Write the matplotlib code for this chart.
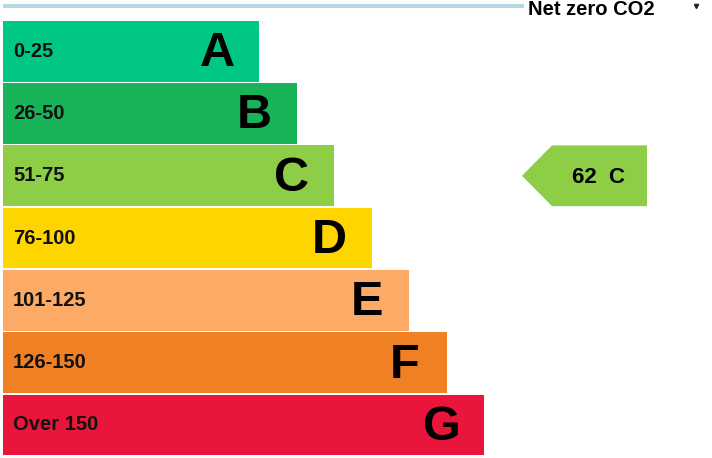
import matplotlib
matplotlib.use('Agg')
import matplotlib.pyplot as plt
from matplotlib.patches import Polygon
import numpy as np

# Energy bands (CO2 rating)
bands = ['A', 'B', 'C', 'D', 'E', 'F', 'G']
ranges = ['0-25', '26-50', '51-75', '76-100', '101-125', '126-150', 'Over 150']
band_colors = ['#00c781', '#19b459', '#8dce46', '#ffd500', '#fcaa65', '#ef8023', '#e9153b']

current_score = 62
current_band = 'C'
header_text = 'Net zero CO2'

plt.rcParams['font.family'] = ['Liberation Sans', 'DejaVu Sans']

fig = plt.figure(figsize=(7.12, 4.58), dpi=100)
ax = fig.add_axes([0, 0, 1, 1])
ax.set_xlim(0, 712)
ax.set_ylim(6.53, -0.821)
ax.axis('off')

idx = np.arange(len(bands))
bar_left = 3
bar_widths = 256 + 37.5 * idx  # staircase layout

ax.barh(idx, bar_widths, left=bar_left, height=0.975, color=band_colors, linewidth=0)

for i, (band, rng) in enumerate(zip(bands, ranges)):
    ax.text(13, i, rng, ha='left', va='center', fontsize=14.5,
            fontweight='bold', color='#111111')
    ax.text(bar_left + bar_widths[i] - 42, i + 0.04, band, ha='center', va='center',
            fontsize=35, fontweight='bold', color='black')

# header line and title
ax.plot([3, 524], [-0.725, -0.725], color='#b7d7e3', linewidth=3, solid_capstyle='butt')
ax.text(528, -0.58, header_text, ha='left', va='baseline', fontsize=14.5,
        fontweight='bold', color='black')
ax.plot([696], [-0.72], marker='v', markersize=3, color='#222222', linestyle='none')

# current rating arrow
row = bands.index(current_band)
h = 0.975 / 2
arrow = Polygon([(522, row), (552, row - h), (647, row - h), (647, row + h), (552, row + h)],
                closed=True, facecolor=band_colors[row], edgecolor='none')
ax.add_patch(arrow)
ax.text(599, row + 0.02, f'{current_score}  {current_band}', ha='center', va='center',
        fontsize=16, fontweight='bold', color='black')

fig.savefig('out.png', dpi=100)
